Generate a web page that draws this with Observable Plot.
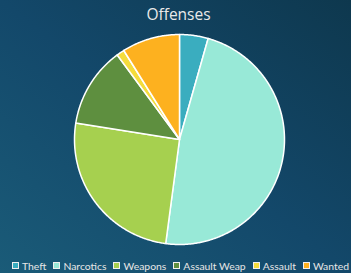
<!DOCTYPE html>
<html>
<head>
<meta charset="utf-8">
<script src="https://cdn.jsdelivr.net/npm/d3@7"></script>
<script src="https://cdn.jsdelivr.net/npm/@observablehq/plot@0.6"></script>
<style>
  html, body { margin: 0; padding: 0; }
  #wrap {
    width: 351px; height: 273px; overflow: hidden; position: relative;
    background: linear-gradient(to top right, #1a5b78 0%, #13486a 50%, #0e384e 100%);
    font-family: "Open Sans", "DejaVu Sans", sans-serif;
  }
  #title {
    height: 28px; line-height: 28px; text-align: center; color: #eaeaea;
    font-size: 15.5px; padding-left: 6px;
  }
  #legend {
    position: absolute; left: 0; top: 258px; width: 351px; height: 15px; box-sizing: border-box;
    padding: 0 2px 0 12px;
    display: flex; justify-content: space-between; align-items: center;
    color: #e6e6e6; font-size: 10.4px; font-family: Lato, "Open Sans", sans-serif;
    white-space: nowrap;
  }
  .item { display: flex; align-items: center; flex-shrink: 0; }
  .sw { width: 5px; height: 5px; border: 1px solid #f0f0f0; margin-right: 3px; }
  svg { display: block; }
</style>
</head>
<body>
<div id="wrap">
  <div id="title">Offenses</div>
  <div id="chart"></div>
  <div id="legend"></div>
</div>
<script>
const categories = ["Theft", "Narcotics", "Weapons", "Assault Weap", "Assault", "Wanted"];
const values = [4.4, 47.7, 25.4, 12.4, 1.2, 8.9];
const colors = ["#3aadbf", "#98e9d7", "#a6d04f", "#5e8f3f", "#f4dc3c", "#fdb11f"];

const pie = d3.pie().sort(null).value(d => d.value);
const arcs = pie(categories.map((name, i) => ({name, value: values[i]})));
const pts = [];
for (const a of arcs) {
  pts.push({name: a.data.name, x: 0, y: 0});
  const n = Math.max(2, Math.ceil((a.endAngle - a.startAngle) / 0.01));
  for (let k = 0; k <= n; k++) {
    const t = a.startAngle + (a.endAngle - a.startAngle) * k / n;
    pts.push({name: a.data.name, x: Math.sin(t), y: Math.cos(t)});
  }
}

const chart = Plot.plot({
  width: 351,
  height: 224,
  marginLeft: 74,
  marginRight: 67,
  marginTop: 6,
  marginBottom: 8,
  x: {domain: [-1, 1], axis: null},
  y: {domain: [-1, 1], axis: null},
  color: {domain: categories, range: colors},
  style: {background: "transparent", overflow: "visible"},
  marks: [
    Plot.line(pts, {x: "x", y: "y", z: "name", fill: "name", stroke: "white", strokeWidth: 1.5, curve: "linear-closed", strokeLinejoin: "round"})
  ]
});
document.getElementById("chart").appendChild(chart);

const legend = document.getElementById("legend");
categories.forEach((c, i) => {
  const it = document.createElement("div");
  it.className = "item";
  const sw = document.createElement("span");
  sw.className = "sw";
  sw.style.background = colors[i];
  const tx = document.createElement("span");
  tx.textContent = c;
  it.appendChild(sw); it.appendChild(tx);
  legend.appendChild(it);
});
</script>
</body>
</html>
